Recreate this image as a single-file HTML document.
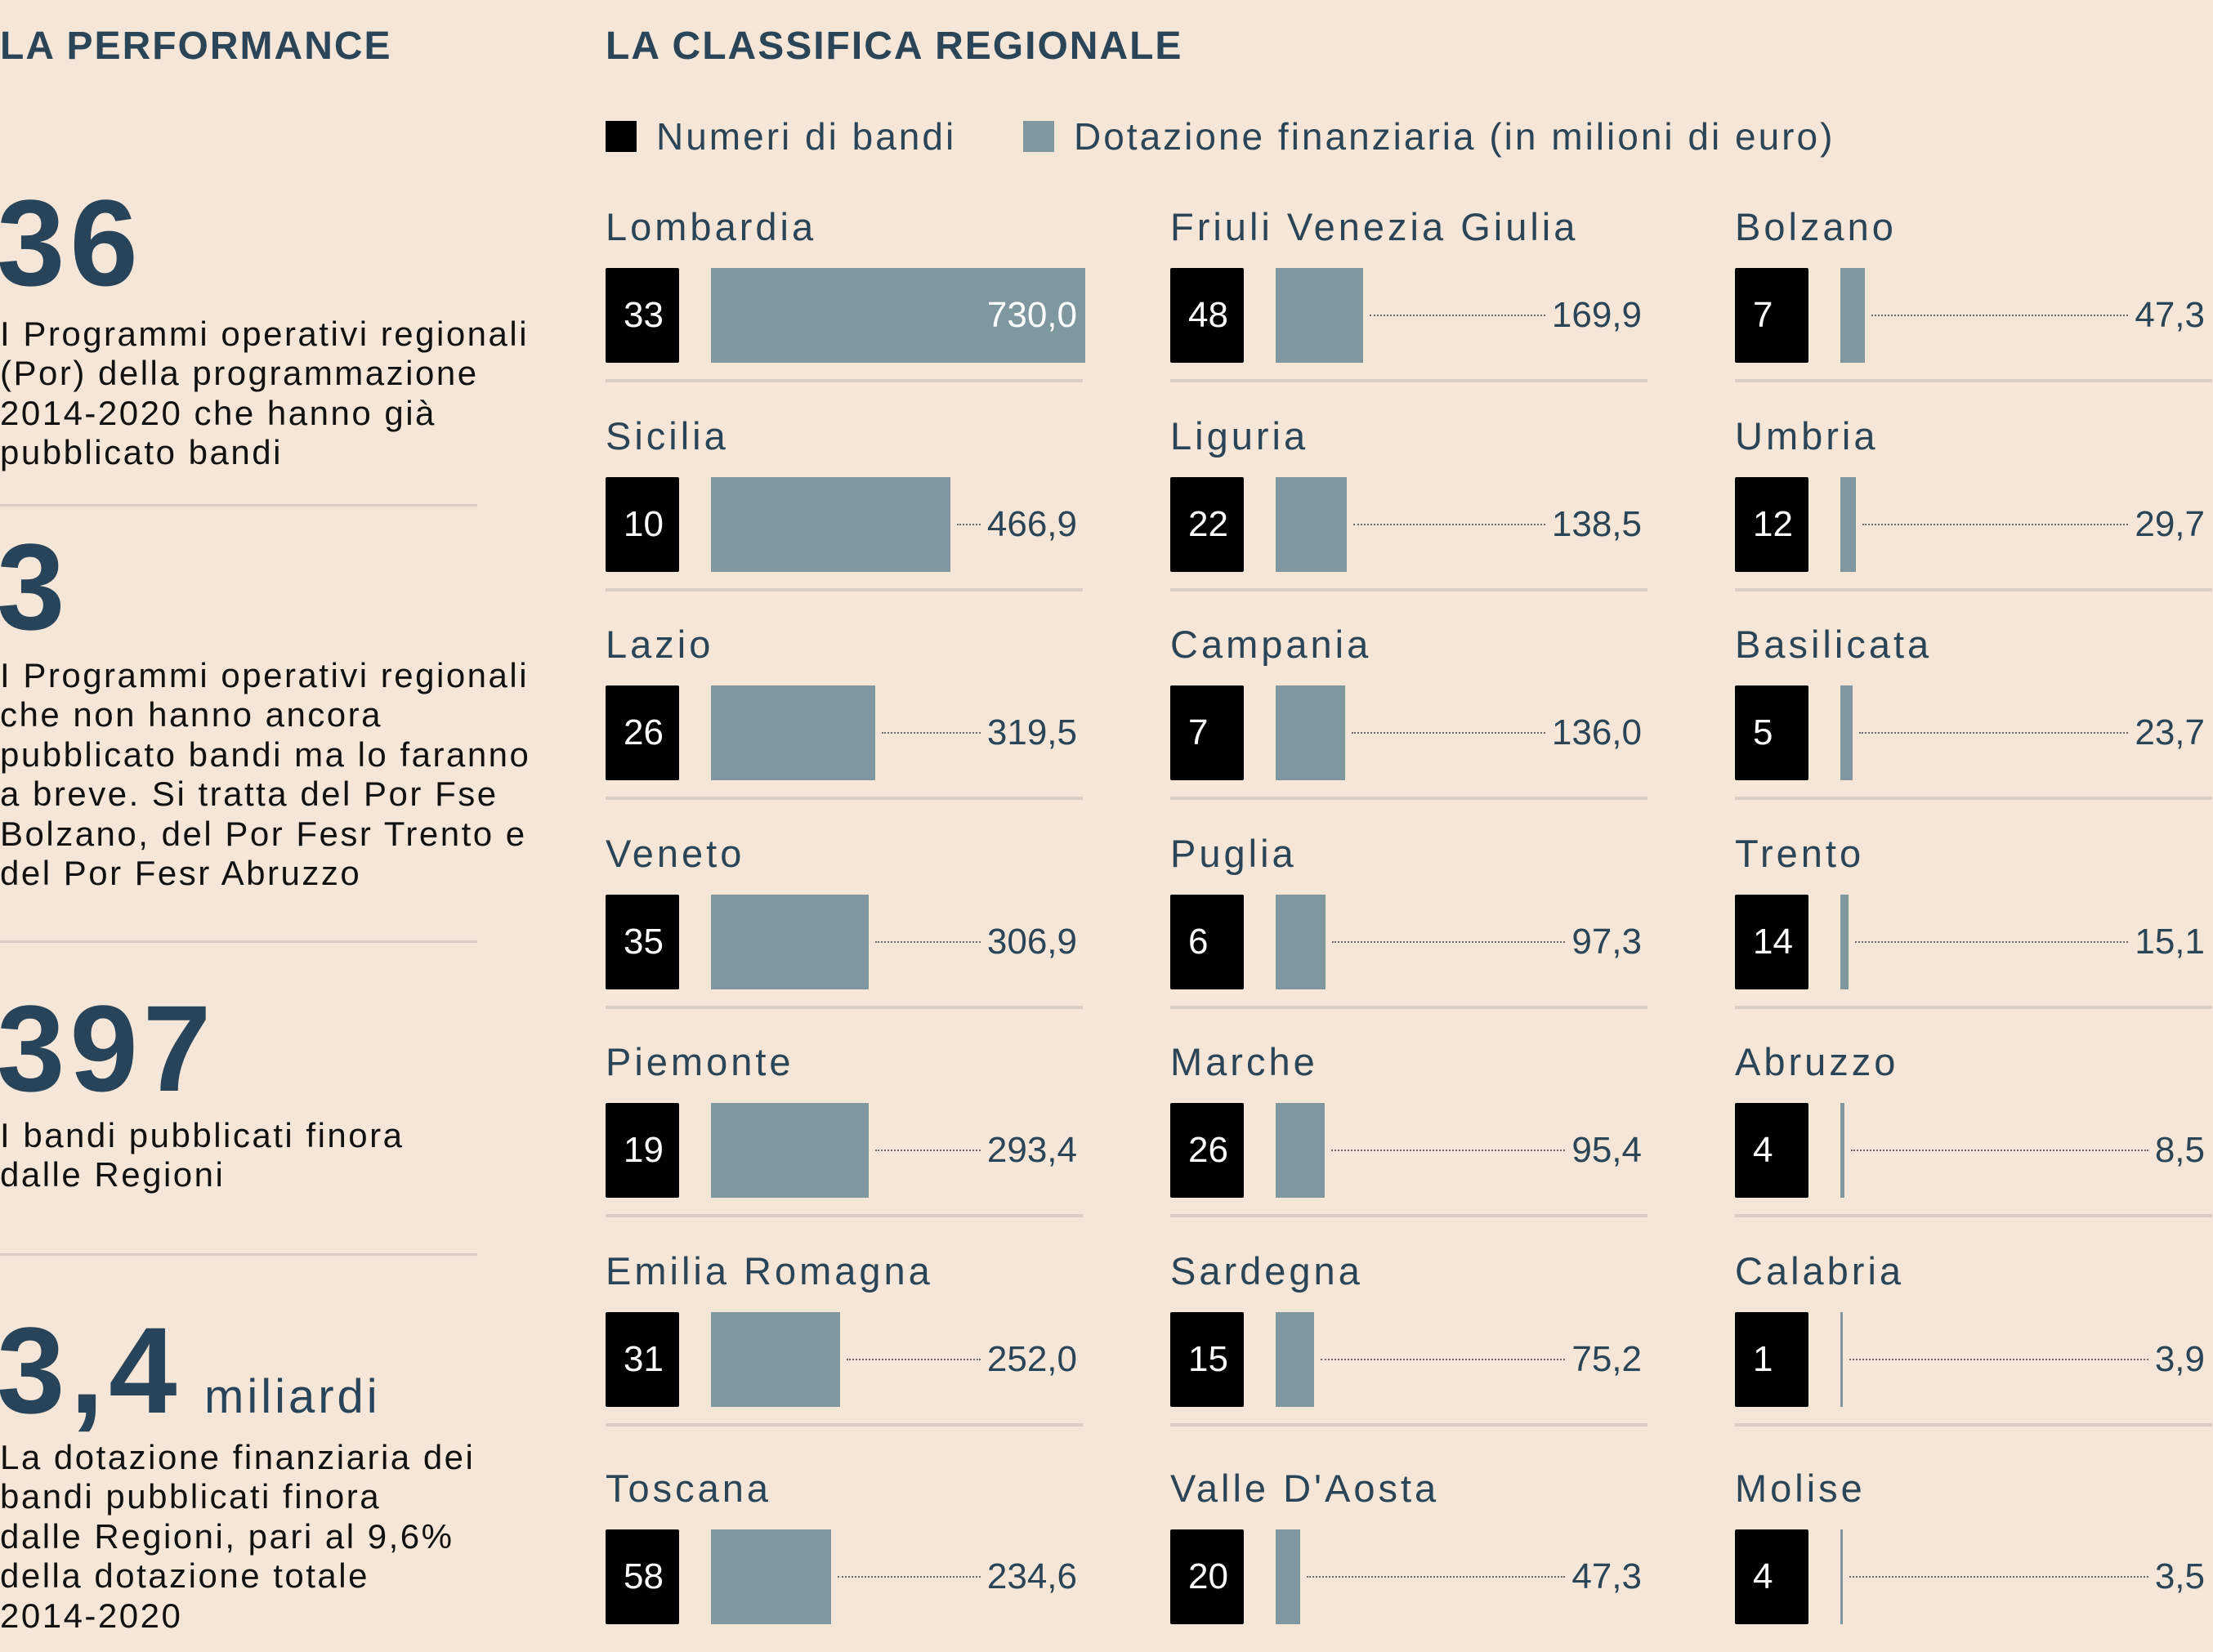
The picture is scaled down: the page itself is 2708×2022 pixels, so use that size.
<!DOCTYPE html>
<html><head><meta charset="utf-8">
<style>
*{margin:0;padding:0;box-sizing:border-box}
body{width:2708px;height:2021px;background:#f6e6d7;font-family:"Liberation Sans",sans-serif;position:relative;overflow:hidden;color:#2a4458}
.abs{position:absolute;white-space:nowrap}
.h{font-weight:bold;font-size:48px;line-height:60px;color:#2a4458;letter-spacing:2px}
.big{font-weight:bold;font-size:150px;line-height:150px;color:#27445a;letter-spacing:6px}
.t{font-size:42px;line-height:48.4px;color:#111;letter-spacing:2.5px}
.sepL{position:absolute;left:0;width:584px;height:3px;background:#d9ccc2}
.it{position:absolute;width:600px;height:230px}
.n{position:absolute;left:0;top:0;height:60px;line-height:60px;font-size:47px;color:#2a4458;white-space:nowrap;letter-spacing:4px}
.b{position:absolute;left:0;top:80px;width:90px;height:116px;background:#000;border-radius:2px;color:#fff;font-size:44px;line-height:116px;padding-left:22px}
.r{position:absolute;left:129px;top:80px;width:448px;height:116px;display:flex;align-items:center}
.g{height:116px;background:#7f989f;flex:none}
.d{flex:1;border-top:2px dotted #6a6a6a;margin:0 8px;height:0}
.v{font-size:44px;color:#2a4458}
.s{position:absolute;left:0;top:216px;width:584px;height:4px;background:#d9cdc4}
.lg{font-size:46px;line-height:60px;letter-spacing:3px}
</style></head><body>
<div class="abs h" style="left:0;top:27px">LA PERFORMANCE</div>
<div class="abs h" style="left:741px;top:27px">LA CLASSIFICA REGIONALE</div>
<div class="abs" style="left:741px;top:148px;width:38px;height:38px;background:#000"></div>
<div class="abs lg" style="left:803px;top:137px">Numeri di bandi</div>
<div class="abs" style="left:1252px;top:148px;width:38px;height:38px;background:#7f989f"></div>
<div class="abs lg" style="left:1314px;top:137px">Dotazione finanziaria (in milioni di euro)</div>

<div class="abs big" style="left:-4px;top:222px">36</div>
<div class="abs t" style="left:0;top:385px">I Programmi operativi regionali<br>(Por) della programmazione<br>2014-2020 che hanno già<br>pubblicato bandi</div>
<div class="sepL" style="top:617px"></div>
<div class="abs big" style="left:-4px;top:643px">3</div>
<div class="abs t" style="left:0;top:803px">I Programmi operativi regionali<br>che non hanno ancora<br>pubblicato bandi ma lo faranno<br>a breve. Si tratta del Por Fse<br>Bolzano, del Por Fesr Trento e<br>del Por Fesr Abruzzo</div>
<div class="sepL" style="top:1151px"></div>
<div class="abs big" style="left:-4px;top:1208px">397</div>
<div class="abs t" style="left:0;top:1366px">I bandi pubblicati finora<br>dalle Regioni</div>
<div class="sepL" style="top:1534px"></div>
<div class="abs big" style="left:-4px;top:1602px">3,4</div>
<div class="abs" style="left:250px;top:1675px;font-size:58px;line-height:70px;color:#27445a;letter-spacing:4px">miliardi</div>
<div class="abs t" style="left:0;top:1760px">La dotazione finanziaria dei<br>bandi pubblicati finora<br>dalle Regioni, pari al 9,6%<br>della dotazione totale<br>2014-2020</div>

<!-- col1 -->
<div class="it" style="left:741px;top:248px"><div class="n">Lombardia</div><div class="b">33</div><div class="r" style="width:460px"><div class="g" style="width:458px;display:flex;align-items:center;justify-content:flex-end;padding-right:10px"><span class="v" style="color:#fff">730,0</span></div></div><div class="s"></div></div>
<div class="it" style="left:741px;top:504px"><div class="n">Sicilia</div><div class="b">10</div><div class="r"><div class="g" style="width:293px"></div><div class="d"></div><span class="v">466,9</span></div><div class="s"></div></div>
<div class="it" style="left:741px;top:759px"><div class="n">Lazio</div><div class="b">26</div><div class="r"><div class="g" style="width:201px"></div><div class="d"></div><span class="v">319,5</span></div><div class="s"></div></div>
<div class="it" style="left:741px;top:1015px"><div class="n">Veneto</div><div class="b">35</div><div class="r"><div class="g" style="width:193px"></div><div class="d"></div><span class="v">306,9</span></div><div class="s"></div></div>
<div class="it" style="left:741px;top:1270px"><div class="n">Piemonte</div><div class="b">19</div><div class="r"><div class="g" style="width:193px"></div><div class="d"></div><span class="v">293,4</span></div><div class="s"></div></div>
<div class="it" style="left:741px;top:1526px"><div class="n">Emilia Romagna</div><div class="b">31</div><div class="r"><div class="g" style="width:158px"></div><div class="d"></div><span class="v">252,0</span></div><div class="s"></div></div>
<div class="it" style="left:741px;top:1792px"><div class="n">Toscana</div><div class="b">58</div><div class="r"><div class="g" style="width:147px"></div><div class="d"></div><span class="v">234,6</span></div></div>
<!-- col2 -->
<div class="it" style="left:1432px;top:248px"><div class="n">Friuli Venezia Giulia</div><div class="b">48</div><div class="r"><div class="g" style="width:107px"></div><div class="d"></div><span class="v">169,9</span></div><div class="s"></div></div>
<div class="it" style="left:1432px;top:504px"><div class="n">Liguria</div><div class="b">22</div><div class="r"><div class="g" style="width:87px"></div><div class="d"></div><span class="v">138,5</span></div><div class="s"></div></div>
<div class="it" style="left:1432px;top:759px"><div class="n">Campania</div><div class="b">7</div><div class="r"><div class="g" style="width:85px"></div><div class="d"></div><span class="v">136,0</span></div><div class="s"></div></div>
<div class="it" style="left:1432px;top:1015px"><div class="n">Puglia</div><div class="b">6</div><div class="r"><div class="g" style="width:61px"></div><div class="d"></div><span class="v">97,3</span></div><div class="s"></div></div>
<div class="it" style="left:1432px;top:1270px"><div class="n">Marche</div><div class="b">26</div><div class="r"><div class="g" style="width:60px"></div><div class="d"></div><span class="v">95,4</span></div><div class="s"></div></div>
<div class="it" style="left:1432px;top:1526px"><div class="n">Sardegna</div><div class="b">15</div><div class="r"><div class="g" style="width:47px"></div><div class="d"></div><span class="v">75,2</span></div><div class="s"></div></div>
<div class="it" style="left:1432px;top:1792px"><div class="n">Valle D'Aosta</div><div class="b">20</div><div class="r"><div class="g" style="width:30px"></div><div class="d"></div><span class="v">47,3</span></div></div>
<!-- col3 -->
<div class="it" style="left:2123px;top:248px"><div class="n">Bolzano</div><div class="b">7</div><div class="r" style="width:446px"><div class="g" style="width:30px"></div><div class="d"></div><span class="v">47,3</span></div><div class="s"></div></div>
<div class="it" style="left:2123px;top:504px"><div class="n">Umbria</div><div class="b">12</div><div class="r" style="width:446px"><div class="g" style="width:19px"></div><div class="d"></div><span class="v">29,7</span></div><div class="s"></div></div>
<div class="it" style="left:2123px;top:759px"><div class="n">Basilicata</div><div class="b">5</div><div class="r" style="width:446px"><div class="g" style="width:15px"></div><div class="d"></div><span class="v">23,7</span></div><div class="s"></div></div>
<div class="it" style="left:2123px;top:1015px"><div class="n">Trento</div><div class="b">14</div><div class="r" style="width:446px"><div class="g" style="width:10px"></div><div class="d"></div><span class="v">15,1</span></div><div class="s"></div></div>
<div class="it" style="left:2123px;top:1270px"><div class="n">Abruzzo</div><div class="b">4</div><div class="r" style="width:446px"><div class="g" style="width:5px"></div><div class="d"></div><span class="v">8,5</span></div><div class="s"></div></div>
<div class="it" style="left:2123px;top:1526px"><div class="n">Calabria</div><div class="b">1</div><div class="r" style="width:446px"><div class="g" style="width:3px"></div><div class="d"></div><span class="v">3,9</span></div><div class="s"></div></div>
<div class="it" style="left:2123px;top:1792px"><div class="n">Molise</div><div class="b">4</div><div class="r" style="width:446px"><div class="g" style="width:3px"></div><div class="d"></div><span class="v">3,5</span></div></div>
</body></html>
